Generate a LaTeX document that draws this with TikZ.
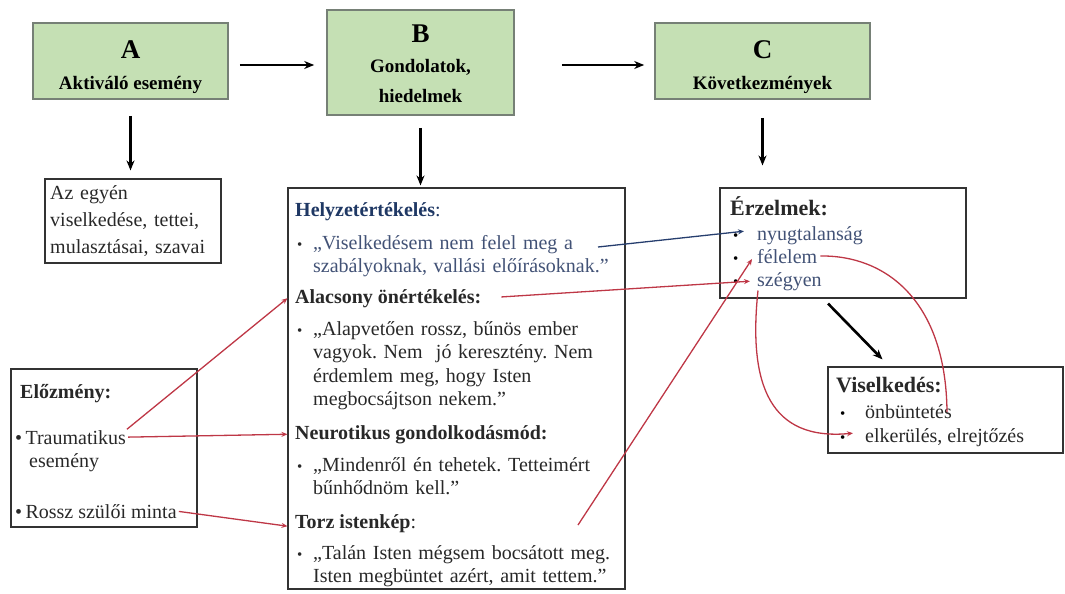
\documentclass[tikz,border=0pt]{standalone}
\usepackage{fontspec}
\setmainfont{Liberation Serif}
\usetikzlibrary{arrows.meta}
\frenchspacing

\definecolor{abcgreen}{RGB}{197,224,180}
\definecolor{abcedge}{RGB}{118,128,118}
\definecolor{headblue}{RGB}{31,56,100}
\definecolor{quoteblue}{RGB}{66,82,118}
\definecolor{linkred}{RGB}{190,55,70}
\definecolor{linkblue}{RGB}{38,62,110}
\definecolor{bodytext}{RGB}{40,40,40}

\begin{document}
\begin{tikzpicture}
[every node/.style={inner sep=0pt},
 abc/.style={rectangle, fill=abcgreen, draw=abcedge, line width=1.6pt},
 abcletter/.style={anchor=base, font=\bfseries\fontsize{27}{27}\selectfont},
 abcname/.style={anchor=base, font=\bfseries\fontsize{19}{22}\selectfont},
 plain/.style={rectangle, draw=black!80, line width=1.1pt},
 txt/.style={anchor=base west, text=bodytext, font=\fontsize{20}{23.5}\selectfont},
 head/.style={txt, font=\bfseries\fontsize{20}{23.5}\selectfont},
 para/.style={txt, text width=330pt, align=left},
 bul/.style={anchor=base west, text=bodytext, font=\fontsize{15}{17}\selectfont},
 flow/.style={line width=2.6pt, -{Stealth[length=10pt, width=8pt]}},
 link/.style={line width=1.3pt, color=linkred, -{Stealth[length=6pt, width=5pt]}}]
\useasboundingbox (0pt,0pt) rectangle (1065pt,-594pt);
% top row
\node (A) [abc, minimum width=195pt, minimum height=76pt] at (130.5pt, -61pt) {};
\node (B) [abc, minimum width=187pt, minimum height=105pt] at (420.5pt, -62.5pt) {};
\node (C) [abc, minimum width=215pt, minimum height=76pt] at (762.5pt, -61pt) {};
\node (Aletter) [abcletter] at (130.5pt, -59pt) {A};
\node (Aname) [abcname] at (130.5pt, -89pt) {Aktiváló esemény};
\node (Bletter) [abcletter] at (420.5pt, -43pt) {B};
\node (Bname) [abcname] at (420.5pt, -73pt) {Gondolatok,};
\node (Bname2) [abcname] at (420.5pt, -102pt) {hiedelmek};
\node (Cletter) [abcletter] at (762.5pt, -59pt) {C};
\node (Cname) [abcname] at (762.5pt, -89pt) {Következmények};
% boxes
\node (act) [plain, minimum width=176pt, minimum height=84pt] at (133pt, -221pt) {};
\node (think) [plain, minimum width=337pt, minimum height=401pt] at (456.5pt, -388.5pt) {};
\node (pre) [plain, minimum width=186pt, minimum height=158pt] at (104pt, -448pt) {};
\node (feel) [plain, minimum width=246pt, minimum height=110pt] at (843pt, -243pt) {};
\node (beh) [plain, minimum width=235pt, minimum height=86pt] at (945.5pt, -410pt) {};
% A
\node (acttext) [txt, text width=170pt, align=left, font=\fontsize{20}{27}\selectfont] at (50pt, -199pt) {Az egyén\\viselkedése, tettei,\\mulasztásai, szavai};
% B
\node (sit) [txt, text=headblue] at (295pt, -216pt) {\textbf{Helyzetértékelés}:};
\node (b1) [bul] at (297pt, -249pt) {•};
\node (sitq) [para, text=quoteblue] at (313pt, -249pt) {„Viselkedésem nem felel meg a\\szabályoknak, vallási előírásoknak.”};
\node (low) [head] at (295pt, -303pt) {Alacsony önértékelés:};
\node (b2) [bul] at (297pt, -335pt) {•};
\node (lowq) [para] at (313pt, -335pt) {„Alapvetően rossz, bűnös ember\\vagyok. Nem\ \ jó keresztény. Nem\\érdemlem meg, hogy Isten\\megbocsájtson nekem.”};
\node (neur) [head] at (295pt, -439pt) {Neurotikus gondolkodásmód:};
\node (b3) [bul] at (297pt, -471pt) {•};
\node (neurq) [para] at (313pt, -471pt) {„Mindenről én tehetek. Tetteimért\\bűnhődnöm kell.”};
\node (god) [txt] at (295pt, -528pt) {\textbf{Torz istenkép}:};
\node (b4) [bul] at (297pt, -559pt) {•};
\node (godq) [para] at (313pt, -559pt) {„Talán Isten mégsem bocsátott meg.\\Isten megbüntet azért, amit tettem.”};
% Előzmény
\node (pretitle) [head] at (20pt, -398pt) {Előzmény:};
\node (trauma) [txt] at (15pt, -444pt) {•\,Traumatikus};
\node (trauma2) [txt] at (29pt, -467pt) {esemény};
\node (parent) [txt] at (15pt, -518pt) {•\,Rossz szülői minta};
% C
\node (feeltitle) [head, font=\bfseries\fontsize{22}{24}\selectfont] at (730pt, -215pt) {Érzelmek:};
\node (b5) [bul, text=black] at (733pt, -240pt) {•};
\node (anx) [txt, text=quoteblue] at (757pt, -240pt) {nyugtalanság};
\node (b6) [bul, text=black] at (733pt, -263pt) {•};
\node (fear) [txt, text=quoteblue] at (757pt, -263pt) {félelem};
\node (b7) [bul, text=black] at (733pt, -286pt) {•};
\node (shame) [txt, text=quoteblue] at (757pt, -286pt) {szégyen};
\node (behtitle) [head, font=\bfseries\fontsize{22}{24}\selectfont] at (836pt, -392pt) {Viselkedés:};
\node (b8) [bul, text=black] at (840pt, -418pt) {•};
\node (punish) [txt] at (865pt, -418pt) {önbüntetés};
\node (b9) [bul, text=black] at (840pt, -442pt) {•};
\node (avoid) [txt] at (865pt, -442pt) {elkerülés, elrejtőzés};
\coordinate (sitend) at (598pt, -247pt);
\coordinate (godpt) at (578pt, -525pt);
\coordinate (behpt) at (947pt, -412pt);
% flow arrows
\draw [flow, shorten <=11pt, shorten >=12pt] ([yshift=-4pt]A.east) -- ([yshift=-4pt]A.east -| B.west);
\draw [flow, shorten <=47pt, shorten >=10pt] ([yshift=-2.5pt]B.east) -- ([yshift=-2.5pt]B.east -| C.west);
\draw [flow, shorten <=16pt, shorten >=8pt] (A.south) -- (A.south |- act.north);
\draw [flow, shorten <=12pt, shorten >=2pt] (B.south) -- (B.south |- think.north);
\draw [flow, shorten <=18pt, shorten >=22pt] (C.south) -- (C.south |- feel.north);
\draw [flow] ([xshift=-15pt, yshift=-5pt]feel.south) -- ([xshift=-63pt, yshift=7pt]beh.north);
% links
\draw [link, shorten <=1pt] (trauma.north east) -- (think.west |- low.west);
\draw [link, shorten <=2pt] (trauma.east) -- (think.west |- neur.west);
\draw [link, shorten <=2pt] (parent.east) -- ([yshift=-3pt]think.west |- god.west);
\draw [link, shorten <=20pt] (low.east) -- ([xshift=-7pt]shame.west);
\draw [link] (godpt) -- ([xshift=-5pt, yshift=-3pt]fear.west);
\draw [line width=1.3pt, color=linkblue, -{Stealth[length=6pt, width=5pt]}] (sitend) -- ([xshift=-13pt, yshift=4pt]anx.west);
\draw [line width=1.3pt, color=linkred, shorten <=3pt] (fear.east) .. controls (885pt,-255pt) and (946pt,-300pt) .. (behpt);
\draw [link] ([xshift=1pt]shame.south west) .. controls (748pt,-385pt) and (770pt,-441pt) .. ([xshift=-12pt, yshift=4pt]avoid.west);
\end{tikzpicture}
\end{document}
